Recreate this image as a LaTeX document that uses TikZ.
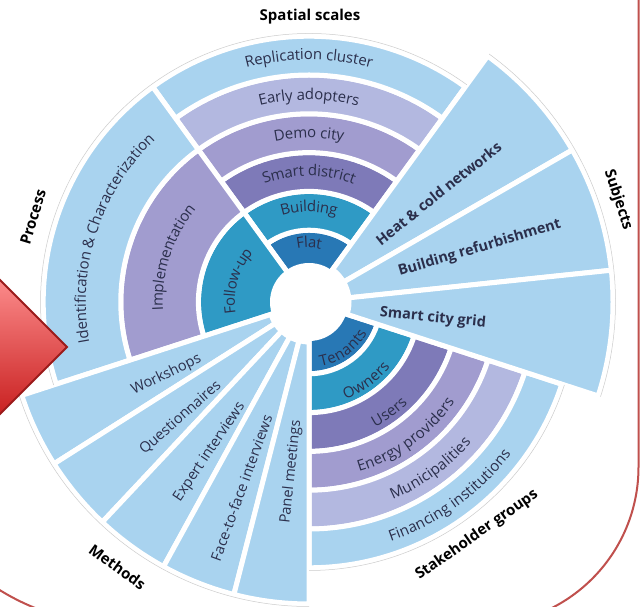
\documentclass[tikz,border=0pt]{standalone}
\usepackage{fontspec}
\setmainfont{Open Sans}
\usetikzlibrary{decorations.text}
\definecolor{lb}{HTML}{A9D3EF}
\definecolor{lav}{HTML}{B3B8E0}
\definecolor{pur}{HTML}{A19CCF}
\definecolor{dpur}{HTML}{7E7AB8}
\definecolor{cteal}{HTML}{2F9AC5}
\definecolor{dblue}{HTML}{2878B5}
\definecolor{txt}{HTML}{2B2F4C}
\definecolor{framec}{HTML}{C0504D}
\definecolor{arrowedge}{HTML}{9B1B1B}
\newcommand{\annsec}[5]{\filldraw[seg,fill=#5] (#1:#3pt) arc[start angle=#1,end angle=#2,radius=#3pt] -- (#2:#4pt) arc[start angle=#2,end angle=#1,radius=#4pt] -- cycle;}
\newcommand{\arclabel}[4]{\path[decorate,decoration={text along path,text align=center,raise=-3.8pt,text={|\color{txt}\fontsize{15}{17}\selectfont|#4}}] (#1:#3pt) arc[start angle=#1,end angle=#2,radius=#3pt];}
\tikzset{
  seg/.style={draw=white,line width=5pt},
  title/.style={font=\bfseries\fontsize{15}{17}\selectfont,text=black,inner sep=0pt},
  sublabel/.style={font=\bfseries\fontsize{14.5}{16}\selectfont,text=txt,inner sep=0pt},
  methlabel/.style={font=\fontsize{14.5}{16}\selectfont,text=txt,inner sep=0pt},
  outline/.style={draw=gray!40,line width=0.5pt}
}
\begin{document}
\begin{tikzpicture}[x=1pt,y=1pt]
\useasboundingbox (0,0) rectangle (640,607);
\clip (0,0) rectangle (640,607);
\fill[white] (0,0) rectangle (640,607);
% frame
\draw[framec,line width=2pt] (-112,800) -- (-112,217) arc[start angle=180,end angle=270,radius=235pt]
  -- (480.5,-18) arc[start angle=270,end angle=360,radius=158pt] -- (638.5,800);
\begin{scope}[shift={(309,305)}]
% Spatial scales rings
\annsec{54}{126}{33}{71.8}{dblue}
\annsec{54}{126}{71.8}{110.6}{cteal}
\annsec{54}{126}{110.6}{149.4}{dpur}
\annsec{54}{126}{149.4}{188.2}{pur}
\annsec{54}{126}{188.2}{227}{lav}
\annsec{54}{126}{227}{265.8}{lb}
% Process
\annsec{126}{198}{33}{110.6}{cteal}
\annsec{126}{198}{110.6}{188.2}{pur}
\annsec{126}{198}{188.2}{265.8}{lb}
% Stakeholders
\annsec{270}{342}{33}{71.8}{dblue}
\annsec{270}{342}{71.8}{110.6}{cteal}
\annsec{270}{342}{110.6}{149.4}{dpur}
\annsec{270}{342}{149.4}{188.2}{pur}
\annsec{270}{342}{188.2}{227}{lav}
\annsec{270}{342}{227}{265.8}{lb}
% Methods
\annsec{198}{212.4}{40}{302}{lb}
\annsec{212.4}{226.8}{40}{302}{lb}
\annsec{226.8}{241.2}{40}{302}{lb}
\annsec{241.2}{255.6}{40}{302}{lb}
\annsec{255.6}{270}{40}{302}{lb}
% Subjects
\annsec{30}{54}{40}{304}{lb}
\annsec{6}{30}{40}{304}{lb}
\annsec{-18}{6}{40}{304}{lb}
% faint outlines
\draw[outline] (54:268.5pt) arc[start angle=54,end angle=198,radius=268.5pt];
\draw[outline] (198:304.5pt) arc[start angle=198,end angle=270,radius=304.5pt];
\draw[outline] (270:268.5pt) arc[start angle=270,end angle=342,radius=268.5pt];
\draw[outline] (342:306.5pt) arc[start angle=342,end angle=414,radius=306.5pt];
% centre
\fill[white] (0,0) circle[radius=39pt];
% spatial labels
\arclabel{126}{54}{58}{Flat}
\arclabel{126}{54}{94}{Building}
\arclabel{126}{54}{130}{Smart district}
\arclabel{126}{54}{168}{Demo city}
\arclabel{126}{54}{206}{Early adopters}
\arclabel{126}{54}{246}{Replication cluster}
% process labels
\arclabel{200}{128}{78}{Follow-up}
\arclabel{198}{126}{150}{Implementation}
\arclabel{198}{126}{227}{Identification {\&} Characterization}
% stakeholder labels
\arclabel{270}{342}{62}{Tenants}
\arclabel{270}{342}{100}{Owners}
\arclabel{270}{342}{138}{Users}
\arclabel{270}{342}{173}{Energy providers}
\arclabel{270}{342}{211}{Municipalities}
\arclabel{270}{342}{249}{Financing institutions}
% methods labels
\node[methlabel,rotate=26] (ws) at (207:160pt) {Workshops};
\node[methlabel,rotate=41.5] (qu) at (222:173pt) {Questionnaires};
\node[methlabel,rotate=56] (ex) at (236.5:180pt) {Expert interviews};
\node[methlabel,rotate=70] (ff) at (250:198pt) {Face-to-face interviews};
\node[methlabel,rotate=84] (pm) at (264:171pt) {Panel meetings};
% subject labels
\node[sublabel,rotate=38.5] (hc) at (40:169pt) {Heat \& cold networks};
\node[sublabel,rotate=16.5] (br) at (17.5:179pt) {Building refurbishment};
\node[sublabel,rotate=-5.5] (sc) at (-7.4:125pt) {Smart city grid};
\end{scope}
% titles
\node[title] (t1) at (310,590) {Spatial scales};
\node[title,rotate=73] (t2) at (33,390) {Process};
\node[title,rotate=-72] (t3) at (618,407) {Subjects};
\node[title,rotate=-36] (t4) at (117.5,40) {Methods};
\node[title,rotate=35] (t5) at (477,72) {Stakeholder groups};
% red arrow
\shade[top color=red!30!pink!90!white,bottom color=red!75!black!90,draw=arrowedge,line width=2pt]
  (-10,337) -- (67,260) -- (-10,183) -- cycle;
\end{tikzpicture}
\end{document}
